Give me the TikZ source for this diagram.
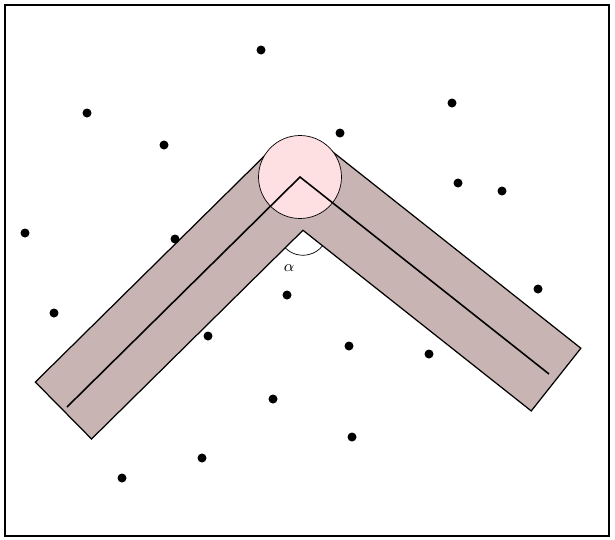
\documentclass[tikz,border=0pt]{standalone}
\usepackage{amsmath,amssymb}
\usepackage{tikz}
\usetikzlibrary{calc,angles}
\definecolor{stripbrown}{RGB}{201,180,180}
\definecolor{jointpink}{RGB}{255,224,226}
\tikzset{
  framebox/.style={draw=black,line width=1.1pt},
  stripband/.style={fill=stripbrown,draw=black,line width=0.7pt,line join=miter},
  jointdisc/.style={circle,fill=jointpink,draw=black,line width=0.4pt,minimum size=1.66cm,inner sep=0pt},
  axisline/.style={draw=black,line width=0.9pt},
  datadot/.style={circle,fill=black,minimum size=0.18cm,inner sep=0pt},
  anglearc/.style={draw=black,line width=0.4pt,angle radius=0.5cm}
}

\begin{document}
\begin{tikzpicture}[x=0.02cm,y=0.02cm]
  \useasboundingbox (0,0) rectangle (615,539);
  \draw[framebox] (5,3) rectangle (609,534);

  % apex and arm ends
  \coordinate (A) at (300,362);
  \coordinate (L) at (67,132);
  \coordinate (R) at (549,165);
  \coordinate (Le) at ($(L)!-0.1cm!(A)$);
  \coordinate (Re) at ($(R)!-0.18cm!(A)$);

  % band corners
  \coordinate (Lo1) at ($(A)!0.8cm!-90:(L)$);
  \coordinate (Li1) at ($(A)!0.8cm!90:(L)$);
  \coordinate (Lo2) at ($(Le)!0.8cm!90:(A)$);
  \coordinate (Li2) at ($(Le)!0.8cm!-90:(A)$);
  \coordinate (Ro1) at ($(A)!0.8cm!90:(R)$);
  \coordinate (Ri1) at ($(A)!0.8cm!-90:(R)$);
  \coordinate (Ro2) at ($(Re)!0.8cm!-90:(A)$);
  \coordinate (Ri2) at ($(Re)!0.8cm!90:(A)$);
  \coordinate (V) at (intersection of Li1--Li2 and Ri1--Ri2);

  \draw[stripband] (Lo2) -- (Lo1) -- (Ro1) -- (Ro2) -- (Ri2) -- (V) -- (Li2) -- cycle;
  \node[jointdisc] (joint) at (A) {};
  \draw[axisline] (L) -- (A) -- (R);

  \pic[anglearc] {angle = Li2--V--Ri2};
  \node[font=\small] (alpha) at (289,271) {$\alpha$};

  % sample points
  \foreach \px/\py [count=\i] in {261/489,87/426,452/436,340/406,164/394,458/356,
      502/348,25/306,175/300,287/244,538/250,54/226,208/203,349/193,429/185,
      273/140,352/102,202/81,122/61}
    \node[datadot] (p\i) at (\px,\py) {};
\end{tikzpicture}
\end{document}
